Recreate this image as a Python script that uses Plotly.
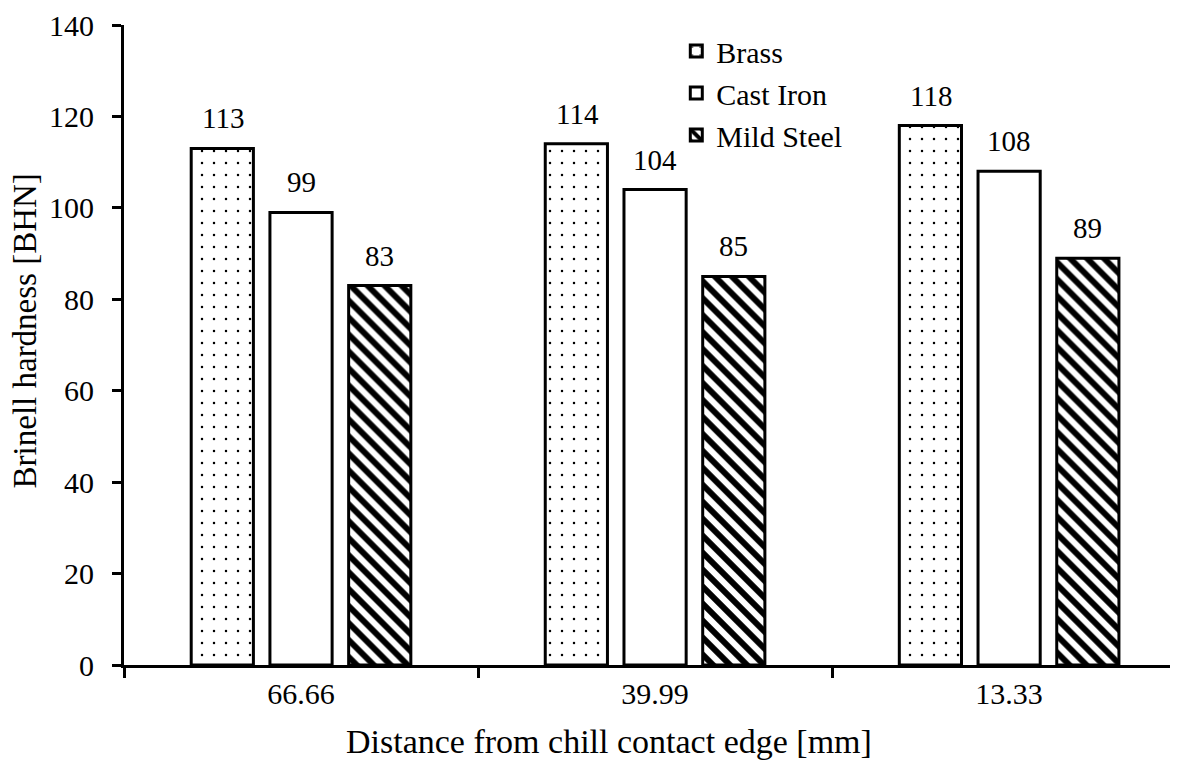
import plotly.graph_objects as go

categories = ["66.66", "39.99", "13.33"]
series_names = ["Brass", "Cast Iron", "Mild Steel"]
brass = [113, 114, 118]
cast_iron = [99, 104, 108]
mild_steel = [83, 85, 89]
y_ticks = [0, 20, 40, 60, 80, 100, 120, 140]

FONT = "Liberation Serif"
TICK_FS = 30
LABEL_FS = 29
LEG_FS = 30
XT_FS = 34
YT_FS = 33

OUTLINE = dict(color="black", width=3)
patterns = [
    dict(shape=".", fgcolor="black", bgcolor="white", fgopacity=1, size=12, solidity=0.035),
    dict(shape="", fgcolor="black", bgcolor="white"),
    dict(shape="\\", fgcolor="black", bgcolor="white", fgopacity=1, size=12, solidity=0.5),
]
values = [brass, cast_iron, mild_steel]

fig = go.Figure()
for name, vals, pat in zip(series_names, values, patterns):
    fig.add_trace(go.Bar(
        name=name, x=categories, y=vals,
        marker=dict(color="white", line=OUTLINE, pattern=pat),
    ))

# value labels above bars (offset per series within the group)
group_shift = [-78, 0, 78]
for vals, xs in zip(values, group_shift):
    for i, v in enumerate(vals):
        fig.add_annotation(
            x=i, y=v, xref="x", yref="y", text=str(v), showarrow=False,
            xshift=xs, yshift=12, yanchor="bottom",
            font=dict(family=FONT, size=LABEL_FS, color="black"),
        )

# axis titles
fig.add_annotation(
    x=0.46, y=-0.12, xref="paper", yref="paper", showarrow=False,
    text="Distance from chill contact edge [mm]", xanchor="center", yanchor="middle",
    font=dict(family=FONT, size=XT_FS, color="black"),
)
fig.add_annotation(
    x=16.5 / 1054 - 116 / 1054, y=0.522, xref="paper", yref="paper", showarrow=False,
    text="Brinell hardness [BHN]", textangle=-90, xanchor="center", yanchor="middle",
    font=dict(family=FONT, size=YT_FS, color="black"),
)

fig.update_layout(
    width=1170, height=754,
    margin=dict(l=116, r=0, t=17, b=97),
    paper_bgcolor="white", plot_bgcolor="white",
    font=dict(family=FONT, size=TICK_FS, color="black"),
    barmode="group", bargap=0.333, bargroupgap=0.21,
    showlegend=True,
    legend=dict(x=0.524, y=1.0, xanchor="left", yanchor="top",
                bgcolor="rgba(0,0,0,0)", font=dict(family=FONT, size=LEG_FS),
                itemwidth=30, tracegroupgap=0),
    xaxis=dict(
        type="category", range=[-0.5, 2.477], automargin=False,
        tickson="boundaries", ticks="outside", ticklen=10, tickwidth=2.5, tickcolor="black",
        showline=True, linecolor="black", linewidth=3,
        showgrid=False, zeroline=False,
        tickfont=dict(family=FONT, size=TICK_FS),
    ),
    yaxis=dict(
        range=[0, 140], tickvals=y_ticks, automargin=False,
        ticks="outside", ticklen=9, tickwidth=2.5, tickcolor="black",
        ticklabelstandoff=12,
        showline=True, linecolor="black", linewidth=3,
        showgrid=False, zeroline=False,
        tickfont=dict(family=FONT, size=TICK_FS),
    ),
)

fig.write_html("out.html")
